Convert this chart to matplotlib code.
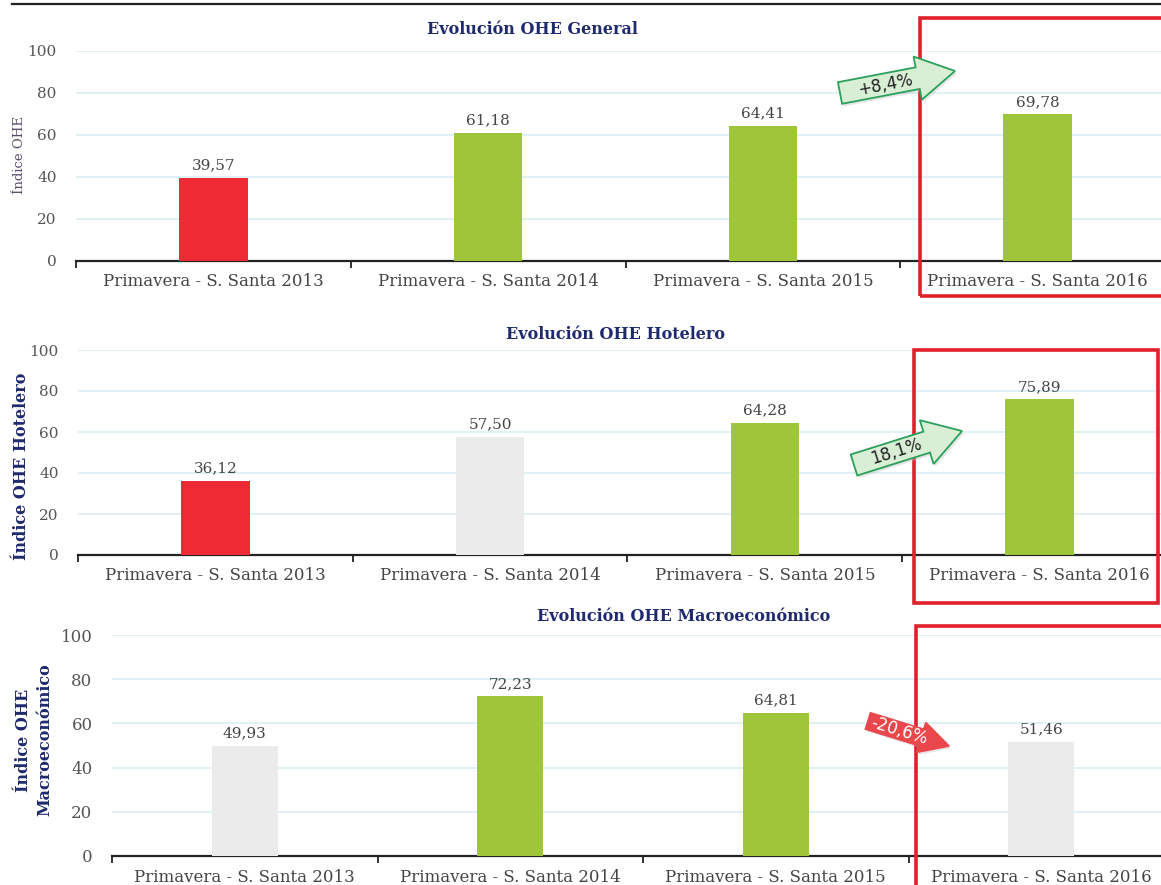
import numpy as np
import matplotlib
matplotlib.use("Agg")
import matplotlib.pyplot as plt
from matplotlib.patches import Polygon, Rectangle
from matplotlib.transforms import IdentityTransform

categories = ["Primavera - S. Santa 2013", "Primavera - S. Santa 2014",
              "Primavera - S. Santa 2015", "Primavera - S. Santa 2016"]
general = [39.57, 61.18, 64.41, 69.78]
hotelero = [36.12, 57.50, 64.28, 75.89]
macro = [49.93, 72.23, 64.81, 51.46]

RED = "#ee2a35"
GREEN = "#9fc63b"
GREY = "#ebebeb"
general_colors = [RED, GREEN, GREEN, GREEN]
hotelero_colors = [RED, GREY, GREEN, GREEN]
macro_colors = [GREY, GREEN, GREEN, GREY]

titles = ["Evolución OHE General", "Evolución OHE Hotelero",
          "Evolución OHE Macroeconómico"]
changes = ["+8,4%", "18,1%", "-20,6%"]

W, H = 1161, 885
NAVY = "#1f2a6e"
SERIF = ["DejaVu Serif"]

fig = plt.figure(figsize=(W / 100, H / 100), dpi=100)


def px_axes(left, bottom, top, width):
    return fig.add_axes([left / W, (H - bottom) / H, width / W, (bottom - top) / H])


def bar_panel(ax, values, colors, tick_size=11):
    x = np.arange(len(values))
    ax.bar(x, values, width=0.25, color=colors, zorder=3)
    for xi, v in zip(x, values):
        ax.annotate(f"{v:.2f}".replace(".", ","), (xi, v), xytext=(0, 4),
                    textcoords="offset points", ha="center", va="bottom",
                    fontsize=11, color="#444444", family=SERIF)
    ax.set_xlim(-0.5, 3.5)
    ax.set_ylim(0, 100)
    ax.set_yticks([0, 20, 40, 60, 80, 100])
    ax.grid(axis="y", color="#dcedf4", linewidth=1.2, zorder=0)
    ax.set_xticks(x)
    ax.set_xticklabels(categories, family=SERIF, fontsize=12, color="#444444")
    ax.set_xticks([-0.5, 0.5, 1.5, 2.5], minor=True)
    ax.tick_params(axis="x", which="major", length=0, pad=9)
    ax.tick_params(axis="x", which="minor", length=5, width=1.3, color="#222222",
                   direction="out")
    ax.tick_params(axis="y", length=0, pad=14, labelcolor="#555555")
    for lab in ax.get_yticklabels():
        lab.set_family(SERIF)
        lab.set_fontsize(tick_size)
    for side in ["top", "right", "left"]:
        ax.spines[side].set_visible(False)
    ax.spines["bottom"].set_color("#222222")
    ax.spines["bottom"].set_linewidth(1.6)


def block_arrow(tail, tip, body_w, head_w, head_len, fc, ec, label, tcolor):
    # tail and tip are given in image pixels (y down)
    t = np.array([tail[0], H - tail[1]], float)
    p = np.array([tip[0], H - tip[1]], float)
    d = p - t
    length = np.hypot(*d)
    u = d / length
    n = np.array([-u[1], u[0]])
    base = p - u * head_len
    verts = [t + n * body_w / 2, base + n * body_w / 2, base + n * head_w / 2, p,
             base - n * head_w / 2, base - n * body_w / 2, t - n * body_w / 2]
    shadow = [v + np.array([2, -2.5]) for v in verts]
    fig.add_artist(Polygon(shadow, closed=True, transform=IdentityTransform(),
                           fc="#b8b8b8", ec="none", alpha=0.35))
    fig.add_artist(Polygon(verts, closed=True, transform=IdentityTransform(),
                           fc=fc, ec=ec, lw=1.3))
    mid = t + u * (length - head_len) * 0.58
    ang = np.degrees(np.arctan2(d[1], d[0]))
    fig.text(mid[0] / W, mid[1] / H, label, ha="center", va="center",
             rotation=ang, rotation_mode="anchor", fontsize=12,
             color=tcolor, family=["DejaVu Sans"])


def red_box(x0, y0, x1, y1):
    fig.add_artist(Rectangle((x0, H - y1), x1 - x0, y1 - y0,
                             transform=IdentityTransform(), fill=False,
                             ec="#e0202c", lw=2.6))


# top rule
fig.add_artist(plt.Line2D([12 / W, 1.0], [1 - 4 / H, 1 - 4 / H], color="#222222", lw=1.6))

# General
ax1 = px_axes(76, 261, 51, 1099)
bar_panel(ax1, general, general_colors)
ax1.set_title(titles[0], fontsize=11.5, fontweight="bold", color=NAVY,
              family=SERIF, pad=12, x=0.415)
fig.text(20 / W, 1 - 155 / H, "Índice OHE", rotation=90, ha="center", va="center",
         fontsize=9.5, color="#5b4d6b", family=SERIF)

# Hotelero
ax2 = px_axes(78, 555, 350, 1099)
bar_panel(ax2, hotelero, hotelero_colors)
ax2.set_title(titles[1], fontsize=11.5, fontweight="bold", color=NAVY,
              family=SERIF, pad=8, x=0.489)
fig.text(22 / W, 1 - 466 / H, "Índice OHE Hotelero", rotation=90, ha="center",
         va="center", fontsize=11.5, fontweight="bold", color=NAVY, family=SERIF)

# Macroeconómico
ax3 = px_axes(112, 856, 635, 1062)
bar_panel(ax3, macro, macro_colors, tick_size=12)
ax3.set_title(titles[2], fontsize=11.5, fontweight="bold", color=NAVY,
              family=SERIF, pad=10, x=0.538)
fig.text(34 / W, 1 - 740 / H, "Índice OHE\nMacroeconómico", rotation=90,
         ha="center", va="center", fontsize=11.5, fontweight="bold", color=NAVY,
         family=SERIF, linespacing=1.3)

# highlighted last period
red_box(920, 18, 1175, 296)
red_box(914, 350, 1158, 603)
red_box(916, 626, 1175, 900)

# change arrows
block_arrow((840, 93), (955, 71), 22, 44, 38, "#d8efd6", "#2aa05a", changes[0], "#222222")
block_arrow((854, 465), (962, 431), 22, 46, 37, "#d8efd6", "#2aa05a", changes[1], "#222222")
block_arrow((868, 721), (949, 746), 17, 31, 29, "#e9474b", "#e9474b", changes[2], "white")

fig.savefig("out.png", dpi=100)
